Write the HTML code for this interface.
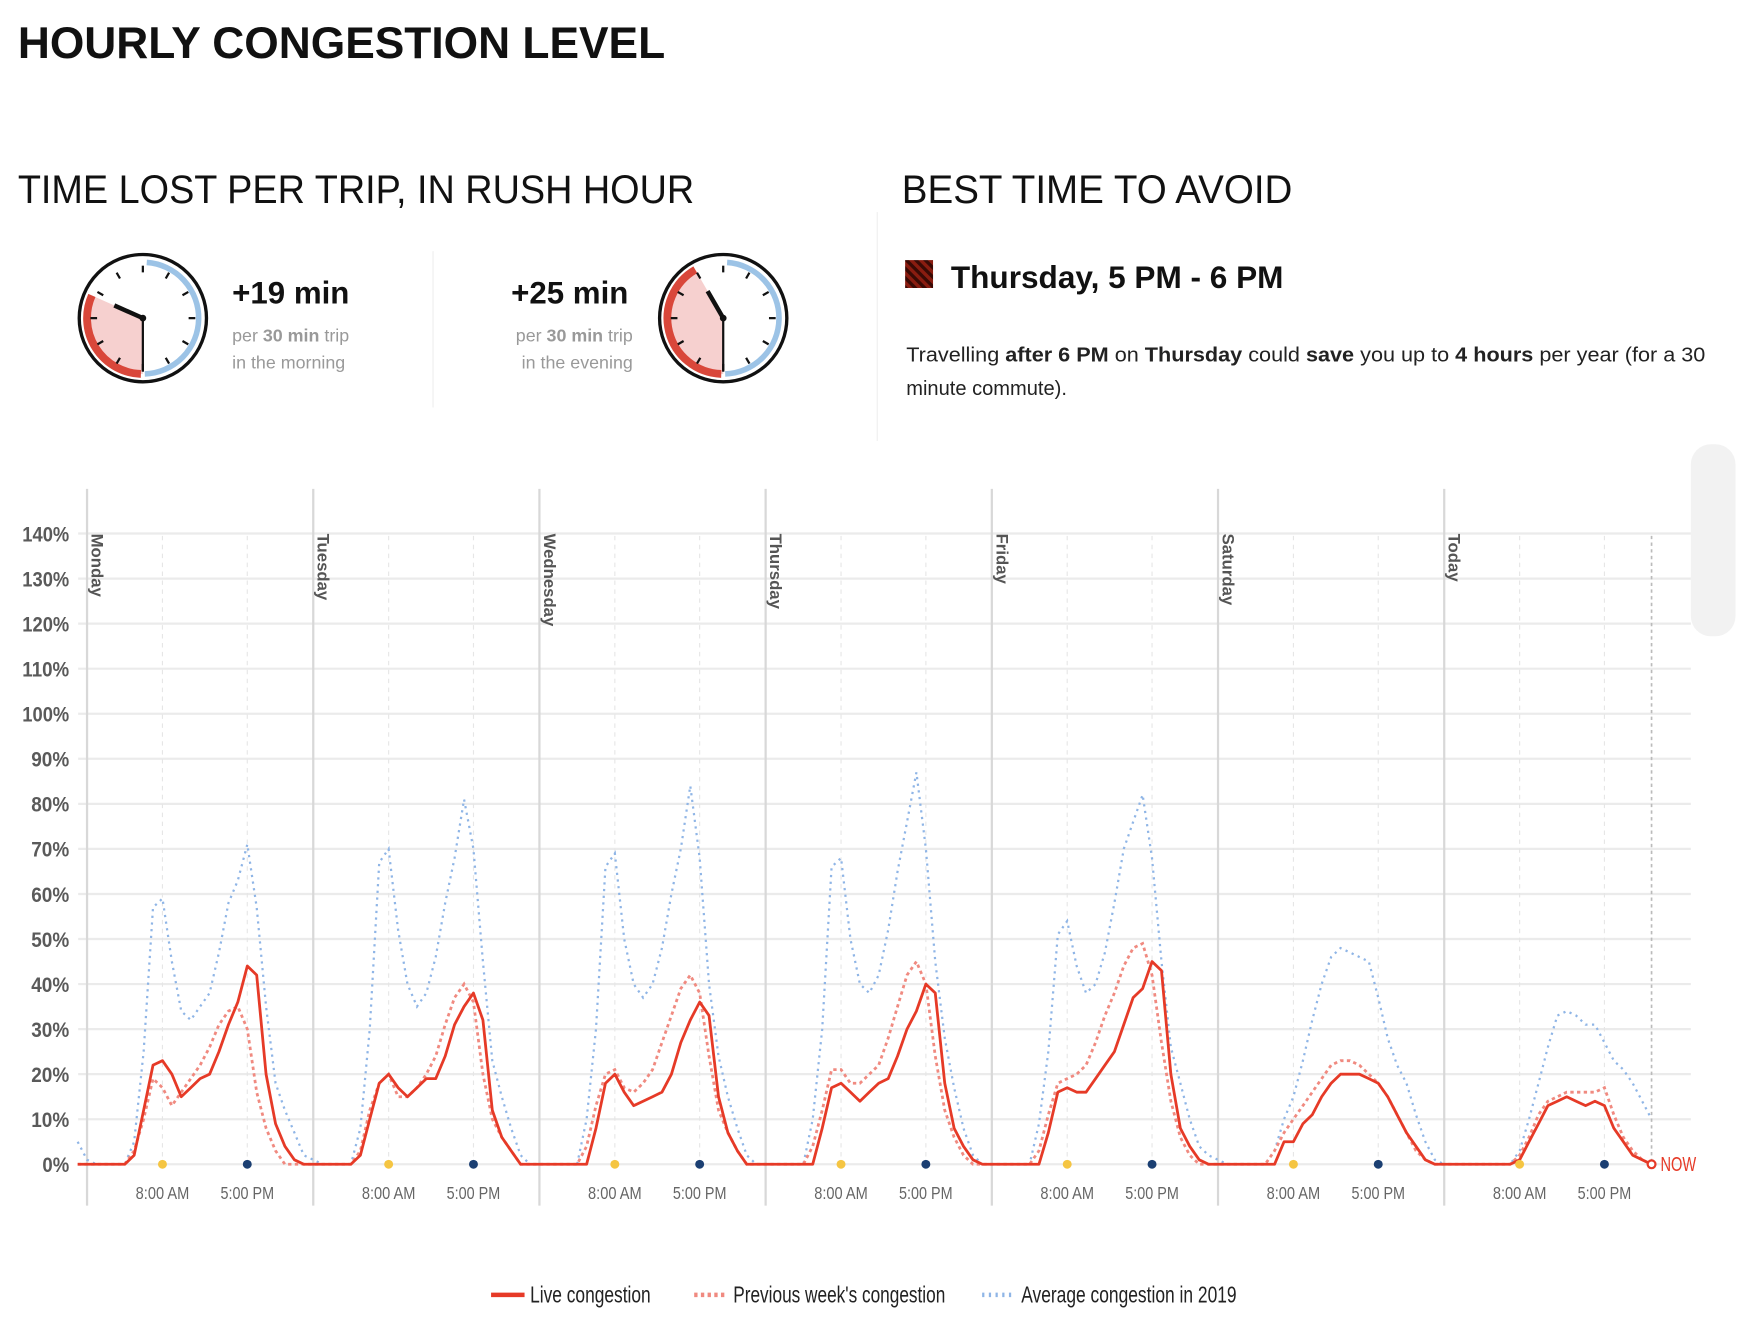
<!DOCTYPE html>
<html><head><meta charset="utf-8"><style>
html,body{margin:0;padding:0;background:#fff;}
svg{display:block;font-family:"Liberation Sans",sans-serif;}
</style></head><body>
<svg id="root" width="1750" height="1344" viewBox="0 0 1568 1204" preserveAspectRatio="none" xmlns="http://www.w3.org/2000/svg">
<defs>
<pattern id="stripes" width="6" height="6" patternUnits="userSpaceOnUse" patternTransform="rotate(-45)">
<rect width="6" height="6" fill="#8a1c10"/><rect width="3" height="6" fill="#3a0a05"/></pattern>
</defs>
<text x="16" y="52" font-size="40" font-weight="bold" fill="#111" textLength="580" lengthAdjust="spacingAndGlyphs">HOURLY CONGESTION LEVEL</text>
<text x="16" y="182" font-size="36" fill="#111" textLength="606" lengthAdjust="spacingAndGlyphs">TIME LOST PER TRIP, IN RUSH HOUR</text>
<text x="808" y="182" font-size="36" fill="#111" textLength="350" lengthAdjust="spacingAndGlyphs">BEST TIME TO AVOID</text>
<line x1="786" y1="190" x2="786" y2="395" stroke="#eee" stroke-width="1"/>
<line x1="388" y1="225" x2="388" y2="365" stroke="#eee" stroke-width="1"/>
<g id="clocks"></g>
<text x="208" y="272" font-size="28" font-weight="bold" fill="#111">+19 min</text>
<text x="208" y="306" font-size="16" fill="#999">per <tspan font-weight="bold">30 min</tspan> trip</text>
<text x="208" y="330" font-size="16" fill="#999">in the morning</text>
<text x="563" y="272" font-size="28" font-weight="bold" fill="#111" text-anchor="end">+25 min</text>
<text x="567" y="306" font-size="16" fill="#999" text-anchor="end">per <tspan font-weight="bold">30 min</tspan> trip</text>
<text x="567" y="330" font-size="16" fill="#999" text-anchor="end">in the evening</text>
<rect x="811" y="233" width="25" height="25" fill="url(#stripes)"/>
<text x="852" y="258" font-size="28" font-weight="bold" fill="#111" textLength="298" lengthAdjust="spacingAndGlyphs">Thursday, 5 PM - 6 PM</text>
<text x="812" y="324" font-size="18" fill="#222" textLength="716" lengthAdjust="spacingAndGlyphs">Travelling <tspan font-weight="bold">after 6 PM</tspan> on <tspan font-weight="bold">Thursday</tspan> could <tspan font-weight="bold">save</tspan> you up to <tspan font-weight="bold">4 hours</tspan> per year (for a 30</text>
<text x="812" y="354" font-size="18" fill="#222">minute commute).</text>
<rect x="1515" y="398" width="40" height="172" rx="18" fill="#f2f2f2"/>
<g id="chart"></g>
<g id="legend"></g>
</svg>
<script>
// ---- chart data (hourly, % congestion) ----
const dayNames = ["Monday","Tuesday","Wednesday","Thursday","Friday","Saturday","Today"];
const yTicks = [0,10,20,30,40,50,60,70,80,90,100,110,120,130,140];
const hourTickLabels = ["8:00 AM","5:00 PM"];
const hourTickHours = [8,17];
const prevSunday = {live:0, prev:0, avg:5};
const liveMon=[0,0,0,0,0,2,12,22,23,20,15,17,19,20,25,31,36,44,42,20,9,4,1,0];
const liveTue=[0,0,0,0,0,2,10,18,20,17,15,17,19,19,24,31,35,38,32,12,6,3,0,0];
const liveWed=[0,0,0,0,0,0,8,18,20,16,13,14,15,16,20,27,32,36,33,15,7,3,0,0];
const liveThu=[0,0,0,0,0,0,8,17,18,16,14,16,18,19,24,30,34,40,38,18,8,4,1,0];
const liveFri=[0,0,0,0,0,0,7,16,17,16,16,19,22,25,31,37,39,45,43,20,8,4,1,0];
const liveSat=[0,0,0,0,0,0,0,5,5,9,11,15,18,20,20,20,19,18,15,11,7,4,1,0];
const liveToday=[0,0,0,0,0,0,0,0,1,5,9,13,14,15,14,13,14,13,8,5,2,1,0];
const prevMon=[0,0,0,0,0,3,10,19,17,13,16,19,22,26,31,34,35,30,16,8,3,0,0,0];
const prevTue=[0,0,0,0,0,3,12,18,20,15,15,17,20,24,31,37,40,36,20,10,6,3,0,0];
const prevWed=[0,0,0,0,0,4,13,20,21,17,16,18,21,27,33,39,42,38,24,12,7,3,0,0];
const prevThu=[0,0,0,0,0,4,12,21,21,18,18,20,22,28,35,42,45,40,24,12,6,2,0,0];
const prevFri=[0,0,0,0,0,3,11,18,19,20,22,27,33,38,44,48,49,42,27,14,6,2,0,0];
const prevSat=[0,0,0,0,0,0,3,7,10,13,16,19,22,23,23,22,20,18,15,11,7,3,1,0];
const prevToday=[0,0,0,0,0,0,0,0,2,6,11,14,15,16,16,16,16,17,11,6,3,1,0];
const avgMon=[1,0,0,0,0,5,25,57,59,45,34,32,35,38,47,58,63,71,57,35,18,12,7,2];
const avgTue=[1,0,0,0,0,8,30,67,70,52,40,35,38,46,58,68,81,70,45,23,15,8,2,0];
const avgWed=[0,0,0,0,0,10,30,66,69,50,40,37,40,48,60,70,84,68,40,24,15,8,2,0];
const avgThu=[0,0,0,0,0,10,30,66,68,50,40,38,42,52,65,76,87,70,45,28,17,8,2,0];
const avgFri=[0,0,0,0,0,9,25,51,54,44,38,40,47,58,70,76,82,68,45,26,18,10,4,2];
const avgSat=[1,0,0,0,0,0,3,10,15,23,32,40,46,48,47,46,45,37,28,22,18,11,5,1];
const avgToday=[0,0,0,0,0,0,0,0,3,10,18,26,33,34,33,31,31,27,23,21,18,14,10];

const NS="http://www.w3.org/2000/svg";
function mk(tag,attrs,parent){const e=document.createElementNS(NS,tag);for(const k in attrs)e.setAttribute(k,attrs[k]);parent.appendChild(e);return e;}

const X0=78, DAYW=202.67, Y0=1043, PER10=40.36;
function xScale(h){return X0+h*DAYW/24;}
function yScale(v){return Y0-v*PER10/10;}

const chart=document.getElementById('chart');
yTicks.forEach(t=>{
  const g=mk('line',{x1:70,x2:1515,y1:yScale(t),y2:yScale(t),stroke:'#ebebeb','stroke-width':2},chart);
  
  
  const tx=mk('text',{x:62,y:yScale(t)+7,'text-anchor':'end','font-size':19,'font-weight':'bold',fill:'#5a5a5a',textLength:(t>=100?42:t>=10?34:24),lengthAdjust:'spacingAndGlyphs'},chart);
  tx.textContent=t+'%';
  
  
});
dayNames.forEach((d,i)=>{
  const x=xScale(i*24);
  hourTickHours.forEach((h,j)=>{
    const hx=xScale(i*24+h);
    const l=mk('line',{x1:hx,x2:hx,y1:480,y2:1043,stroke:'#e6e6e6','stroke-width':1,'stroke-dasharray':'4 4'},chart);
    
    
    const t=mk('text',{x:hx,y:1074,'text-anchor':'middle','font-size':16,fill:'#666',textLength:48,lengthAdjust:'spacingAndGlyphs'},chart);
    t.textContent=hourTickLabels[j];
    
    
  });
  const l=mk('line',{x1:x,x2:x,y1:438,y2:1080,stroke:'#d8d8d8','stroke-width':2},chart);
  
  
  const t=mk('text',{x:0,y:0,'font-size':15,'font-weight':'bold',fill:'#555',transform:`translate(${x+4},478) rotate(90)`},chart);
  t.textContent=d;
  
  
});
const nowX=xScale(6*24+liveToday.length-1);
const nl=mk('line',{x1:nowX,x2:nowX,y1:480,y2:1043,stroke:'#bbb','stroke-width':1.5,'stroke-dasharray':'3 3'},chart);



function series(first,days){const pts=[[-1,first]];days.forEach((arr,i)=>arr.forEach((v,h)=>pts.push([i*24+h,v])));return pts;}
function pathD(pts){return pts.map((p,i)=>(i?'L':'M')+xScale(p[0]).toFixed(1)+','+yScale(p[1]).toFixed(1)).join('');}
const avgPts=series(prevSunday.avg,[avgMon,avgTue,avgWed,avgThu,avgFri,avgSat,avgToday]);
const prevPts=series(prevSunday.prev,[prevMon,prevTue,prevWed,prevThu,prevFri,prevSat,prevToday]);
const livePts=series(prevSunday.live,[liveMon,liveTue,liveWed,liveThu,liveFri,liveSat,liveToday]);
const pa=mk('path',{d:pathD(avgPts),fill:'none',stroke:'#8fb5e6','stroke-width':2,'stroke-dasharray':'2 4'},chart);


const pp=mk('path',{d:pathD(prevPts),fill:'none',stroke:'#f08a80','stroke-width':2.5,'stroke-dasharray':'3 3'},chart);


const pl=mk('path',{d:pathD(livePts),fill:'none',stroke:'#e63a27','stroke-width':2.5,'stroke-linejoin':'round'},chart);


dayNames.forEach((d,i)=>{
  const a=mk('circle',{cx:xScale(i*24+8),cy:Y0,r:4,fill:'#f5c542'},chart);
  
  
  const b=mk('circle',{cx:xScale(i*24+17),cy:Y0,r:4,fill:'#1b3f72'},chart);
  
  
});
const nowLast=livePts[livePts.length-1];
const nc=mk('circle',{cx:xScale(nowLast[0]),cy:yScale(nowLast[1]),r:3.5,fill:'#fff',stroke:'#e63a27','stroke-width':2},chart);


const nt=mk('text',{x:xScale(nowLast[0])+8,y:yScale(nowLast[1])+6,'font-size':18,fill:'#e63a27',textLength:32,lengthAdjust:'spacingAndGlyphs'},chart);
nt.textContent='NOW';



const lg=document.getElementById('legend');
[['Live congestion',440,'#e63a27','', 108],["Previous week's congestion",622,'#f08a80','3 3',190],['Average congestion in 2019',880,'#8fb5e6','2 4',193]].forEach(e=>{
  const g=mk('g',{},lg);
  
  
  mk('line',{x1:e[1],x2:e[1]+30,y1:1160,y2:1160,stroke:e[2],'stroke-width':4,'stroke-dasharray':e[3]||'none'},g);
  const t=mk('text',{x:e[1]+35,y:1167,'font-size':21,fill:'#222',textLength:e[4],lengthAdjust:'spacingAndGlyphs'},g);
  t.textContent=e[0];
});

const cg=document.getElementById('clocks');
function pol(cx,cy,r,deg){const a=(deg-90)*Math.PI/180;return [cx+r*Math.cos(a),cy+r*Math.sin(a)];}
function arc(cx,cy,r,a0,a1){const p0=pol(cx,cy,r,a0),p1=pol(cx,cy,r,a1);return `M${p0[0]},${p0[1]}A${r},${r} 0 ${a1-a0>180?1:0} 1 ${p1[0]},${p1[1]}`;}
function clock(cx,cy,endDeg,name){
  const g=mk('g',{},cg);
  
  
  mk('circle',{cx,cy,r:57,fill:'#fff',stroke:'#111','stroke-width':3},g);
  const p0=pol(cx,cy,50,180),p1=pol(cx,cy,50,endDeg);
  mk('path',{d:`M${cx},${cy}L${p0[0]},${p0[1]}A50,50 0 0 1 ${p1[0]},${p1[1]}Z`,fill:'#f6d0cf'},g);
  mk('path',{d:arc(cx,cy,50,4,178),fill:'none',stroke:'#9cc3e6','stroke-width':5},g);
  mk('path',{d:arc(cx,cy,50,182,endDeg),fill:'none',stroke:'#d9473a','stroke-width':7},g);
  for(let i=0;i<12;i++){const a=pol(cx,cy,47,i*30),b=pol(cx,cy,41,i*30);mk('line',{x1:a[0],y1:a[1],x2:b[0],y2:b[1],stroke:'#111','stroke-width':2},g);}
  const h=pol(cx,cy,28,endDeg);mk('line',{x1:cx,y1:cy,x2:h[0],y2:h[1],stroke:'#111','stroke-width':4},g);
  mk('line',{x1:cx,y1:cy,x2:cx,y2:cy+48,stroke:'#111','stroke-width':2},g);
  mk('circle',{cx,cy,r:3,fill:'#111'},g);
}
clock(128,285,294,'morning-clock');
clock(648,285,330,'evening-clock');
</script>
</body></html>
